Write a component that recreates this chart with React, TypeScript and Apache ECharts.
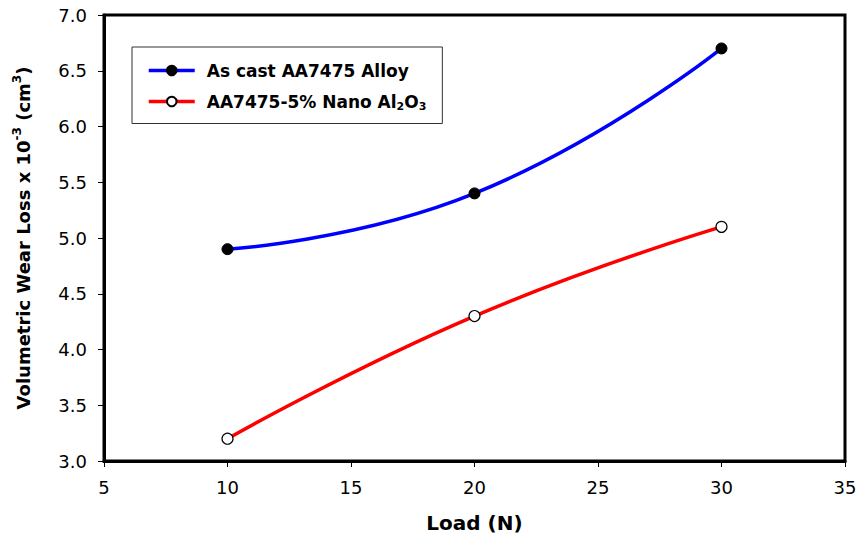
import React, { useEffect, useRef } from "react";
import * as echarts from "echarts";

const loads = [10, 20, 30];
const asCast = [4.9, 5.4, 6.7];
const nanoAl2O3 = [3.2, 4.3, 5.1];
const seriesNames = ["As cast AA7475 Alloy", "AA7475-5% Nano Al2O3"];
const xTicks = { min: 5, max: 35, interval: 5 };
const yTicks = { min: 3, max: 7, interval: 0.5 };

const FONT = "DejaVu Sans";

export default function App() {
  const ref = useRef<HTMLDivElement>(null);
  useEffect(() => {
    if (!ref.current) return;
    const chart = echarts.init(ref.current, null, { renderer: "svg" });
    chart.setOption({
      animation: false,
      backgroundColor: "#fff",
      textStyle: { fontFamily: FONT },
      grid: {
        left: 104,
        right: 15,
        top: 15,
        bottom: 74,
        outerBoundsMode: "none",
        containLabel: false,
        show: true,
        borderWidth: 3,
        borderColor: "#000",
        backgroundColor: "transparent",
      },
      legend: {
        orient: "vertical",
        left: 132,
        top: 47,
        padding: [15, 16, 12, 15],
        itemGap: 14,
        itemWidth: 46,
        itemHeight: 12,
        borderWidth: 1,
        borderColor: "#333",
        data: seriesNames,
        lineStyle: { width: 3.5 },
        formatter: (name: string) =>
          name === seriesNames[1]
            ? "{n|AA7475-5% Nano Al}{sub|2}{n|O}{sub|3}"
            : "{n|" + name + "}",
        textStyle: {
          padding: [0, 0, 0, 7],
          rich: {
            n: { fontFamily: FONT, fontWeight: "bold", fontSize: 17, color: "#000", lineHeight: 20 },
            sub: { fontFamily: FONT, fontWeight: "bold", fontSize: 11, color: "#000", verticalAlign: "bottom", lineHeight: 14, padding: [6, 0, 0, 0] },
          },
        },
      },
      xAxis: {
        type: "value",
        min: xTicks.min,
        max: xTicks.max,
        interval: xTicks.interval,
        name: "Load (N)",
        nameLocation: "middle",
        nameGap: 52,
        nameTextStyle: { fontFamily: FONT, fontWeight: "bold", fontSize: 20, color: "#000" },
        axisLine: { show: true, lineStyle: { color: "#000", width: 3 } },
        axisTick: { show: true, length: 6, lineStyle: { color: "#000", width: 1 } },
        axisLabel: { fontFamily: FONT, fontSize: 18, color: "#000", margin: 17 },
        splitLine: { show: false },
      },
      yAxis: {
        type: "value",
        min: yTicks.min,
        max: yTicks.max,
        interval: yTicks.interval,
        name: "{b|Volumetric Wear Loss x 10}{sup|-3}{b| (cm}{sup|3}{b|)}",
        nameLocation: "middle",
        nameRotate: 90,
        nameGap: 69,
        nameTextStyle: {
          rich: {
            b: { fontFamily: FONT, fontWeight: "bold", fontSize: 18, color: "#000", lineHeight: 24 },
            sup: { fontFamily: FONT, fontWeight: "bold", fontSize: 12, color: "#000", verticalAlign: "top", lineHeight: 14, padding: [0, 0, 8, 0] },
          },
        },
        axisLine: { show: true, lineStyle: { color: "#000", width: 3 } },
        axisTick: { show: true, length: 6, lineStyle: { color: "#000", width: 1 } },
        axisLabel: {
          fontFamily: FONT,
          fontSize: 18,
          color: "#000",
          margin: 17,
          formatter: (v: number) => v.toFixed(1),
        },
        splitLine: { show: false },
      },
      series: [
        {
          name: seriesNames[0],
          type: "line",
          smooth: 0.5,
          data: loads.map((x, i) => [x, asCast[i]]),
          symbol: "circle",
          symbolSize: 11,
          lineStyle: { color: "#0000ff", width: 3.5 },
          itemStyle: { color: "#000", borderColor: "#000", borderWidth: 1 },
          z: 3,
        },
        {
          name: seriesNames[1],
          type: "line",
          smooth: 0.5,
          data: loads.map((x, i) => [x, nanoAl2O3[i]]),
          symbol: "circle",
          symbolSize: 11,
          lineStyle: { color: "#ff0000", width: 3.5 },
          itemStyle: { color: "#fff", borderColor: "#000", borderWidth: 1.2 },
          z: 3,
        },
      ],
    });
    return () => chart.dispose();
  }, []);
  return <div ref={ref} style={{ width: 860, height: 535, position: "fixed", left: 0, top: 0 }} />;
}
